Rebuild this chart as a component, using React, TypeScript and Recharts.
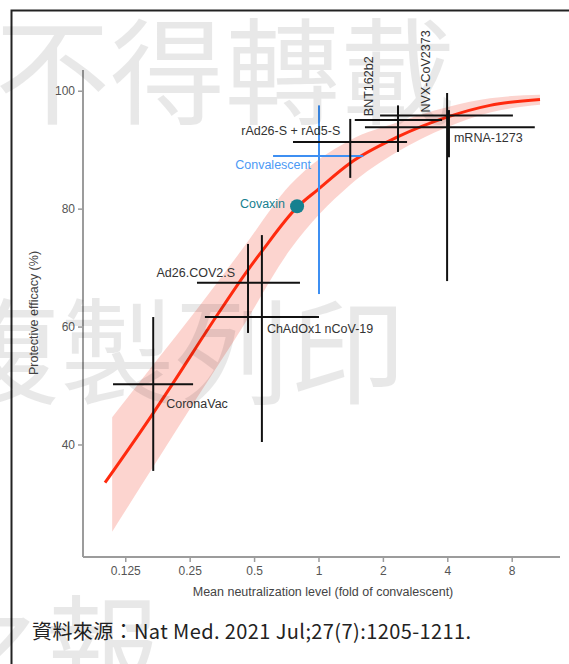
import { ComposedChart, XAxis, YAxis, Line, Area, Scatter, ErrorBar } from "recharts";

// vaccines with error bars (fold of convalescent / efficacy %)
const vaccineNames = [
  "CoronaVac",
  "Ad26.COV2.S",
  "ChAdOx1 nCoV-19",
  "rAd26-S + rAd5-S",
  "BNT162b2",
  "NVX-CoV2373",
  "mRNA-1273",
];
const neutMean = [0.168, 0.466, 0.541, 1.4, 2.34, 3.97, 4.05];
const neutLow = [0.109, 0.269, 0.293, 0.756, 1.47, 1.93, 1.64];
const neutHigh = [0.258, 0.815, 1.0, 2.58, 3.76, 8.06, 10.2];
const efficacy = [50.3, 67.5, 61.7, 91.4, 95.1, 95.9, 93.9];
const effLow = [35.6, 59.0, 40.5, 85.3, 89.7, 67.8, 88.8];
const effHigh = [61.7, 74.1, 75.6, 95.3, 97.6, 99.7, 96.8];

// convalescent reference
const convNeut = [1.0];
const convNeutLow = [0.61];
const convNeutHigh = [1.61];
const convEff = [89.0];
const convEffLow = [65.6];
const convEffHigh = [97.6];

// covaxin (no bars)
const covaxinNeut = [0.79];
const covaxinEff = [80.5];

// fitted curve + band
const curveNeut = [0.1, 0.168, 0.208, 0.334, 0.466, 0.547, 0.789, 0.979, 1.396, 2.316, 3.966, 6.3, 10.79];
const curveEff = [33.6, 45.4, 50.5, 62.0, 69.7, 73.1, 80.3, 83.2, 87.8, 92.2, 95.6, 97.6, 98.6];
const bandNeut = [0.108, 0.168, 0.278, 0.436, 0.732, 1.396, 2.316, 3.966, 6.3, 10.79];
const bandLow = [25.3, 36.3, 48.8, 59.8, 73.1, 84.1, 89.7, 93.9, 96.4, 97.7];
const bandHigh = [44.7, 53.6, 63.7, 73.1, 84.1, 91.7, 94.7, 97.3, 98.8, 99.4];

const xTicks = [0.125, 0.25, 0.5, 1, 2, 4, 8];
const yTicks = [40, 60, 80, 100];

const vaccineRows = vaccineNames.map((name, i) => ({
  name,
  x: neutMean[i],
  y: efficacy[i],
  xErr: [neutMean[i] - neutLow[i], neutHigh[i] - neutMean[i]],
  yErr: [efficacy[i] - effLow[i], effHigh[i] - efficacy[i]],
}));
const convRows = convNeut.map((x, i) => ({
  name: "Convalescent",
  x,
  y: convEff[i],
  xErr: [x - convNeutLow[i], convNeutHigh[i] - x],
  yErr: [convEff[i] - convEffLow[i], convEffHigh[i] - convEff[i]],
}));
const covaxinRows = covaxinNeut.map((x, i) => ({ name: "Covaxin", x, y: covaxinEff[i] }));
const curveRows = curveNeut.map((x, i) => ({ x, eff: curveEff[i] }));
const bandRows = bandNeut.map((x, i) => ({ x, range: [bandLow[i], bandHigh[i]] }));

const FONT = "'Liberation Sans', Arial, sans-serif";
const CJK = "'Noto Sans CJK TC', 'Noto Sans', sans-serif";
const AXIS = "#9c9c9c";
const BLUE = "#3d8ff2";
const TEAL = "#16808f";

const labelLayout: Record<string, { dx: number; dy: number; anchor: string; rotate?: boolean; color?: string }> = {
  CoronaVac: { dx: 13, dy: 19, anchor: "start" },
  "Ad26.COV2.S": { dx: -13, dy: -10, anchor: "end" },
  "ChAdOx1 nCoV-19": { dx: 5, dy: 12, anchor: "start" },
  "rAd26-S + rAd5-S": { dx: -10, dy: -11, anchor: "end" },
  BNT162b2: { dx: -25, dy: -4, anchor: "start", rotate: true },
  "NVX-CoV2373": { dx: -17, dy: -3, anchor: "start", rotate: true },
  "mRNA-1273": { dx: 5, dy: 10, anchor: "start" },
  Convalescent: { dx: -8, dy: 9, anchor: "end", color: "#4d9af5" },
  Covaxin: { dx: -12, dy: -3, anchor: "end", color: TEAL },
};

function PointLabel(props: any) {
  const { cx, cy, payload, dot } = props;
  const lay = labelLayout[payload.name];
  const x = cx + lay.dx;
  const y = cy + lay.dy;
  return (
    <g>
      {dot && <circle cx={cx} cy={cy} r={7} fill={TEAL} />}
      {lay.rotate ? (
        <text
          x={x}
          y={y}
          transform={`rotate(-90 ${x} ${y})`}
          textAnchor="start"
          fontSize={12.5}
          fontFamily={FONT}
          fill="#333"
        >
          {payload.name}
        </text>
      ) : (
        <text
          x={x}
          y={y}
          dy="0.35em"
          textAnchor={lay.anchor as any}
          fontSize={12.5}
          fontFamily={FONT}
          fill={lay.color || "#333"}
        >
          {payload.name}
        </text>
      )}
    </g>
  );
}

export default function App() {
  return (
    <div
      style={{
        position: "absolute",
        left: 0,
        top: 0,
        width: 569,
        height: 664,
        overflow: "hidden",
        background: "#fff",
      }}
    >
      <ComposedChart width={569} height={664} margin={{ top: 70, right: 9, bottom: 77, left: 43 }}>
        <XAxis
          dataKey="x"
          type="number"
          scale="log"
          domain={[0.0789, 13.38]}
          ticks={xTicks}
          tickFormatter={(v) => String(v)}
          height={30}
          tickSize={5}
          tickMargin={4}
          axisLine={{ stroke: AXIS, strokeWidth: 2 }}
          tickLine={{ stroke: AXIS, strokeWidth: 1.5 }}
          tick={{ fill: "#555", fontSize: 12, fontFamily: FONT }}
        />
        <YAxis
          type="number"
          domain={[21, 103.6]}
          ticks={yTicks}
          width={40}
          tickSize={5}
          tickMargin={3}
          axisLine={{ stroke: AXIS, strokeWidth: 2 }}
          tickLine={{ stroke: AXIS, strokeWidth: 1.5 }}
          tick={{ fill: "#555", fontSize: 12, fontFamily: FONT }}
        />
        <Area
          data={bandRows}
          dataKey="range"
          type="monotone"
          stroke="none"
          fill="#fccfca"
          fillOpacity={0.9}
          isAnimationActive={false}
        />
        <Line
          data={curveRows}
          dataKey="eff"
          type="monotone"
          stroke="#ff2a0e"
          strokeWidth={3}
          dot={false}
          isAnimationActive={false}
        />
        <Scatter
          data={convRows}
          dataKey="y"
          isAnimationActive={false}
          shape={(p: any) => <PointLabel {...p} />}
        >
          <ErrorBar dataKey="xErr" direction="x" width={0} stroke={BLUE} strokeWidth={2} />
          <ErrorBar dataKey="yErr" direction="y" width={0} stroke={BLUE} strokeWidth={2} />
        </Scatter>
        <Scatter
          data={vaccineRows}
          dataKey="y"
          isAnimationActive={false}
          shape={(p: any) => <PointLabel {...p} />}
        >
          <ErrorBar dataKey="xErr" direction="x" width={0} stroke="#111" strokeWidth={2} />
          <ErrorBar dataKey="yErr" direction="y" width={0} stroke="#111" strokeWidth={2} />
        </Scatter>
        <Scatter
          data={covaxinRows}
          dataKey="y"
          isAnimationActive={false}
          shape={(p: any) => <PointLabel {...p} dot />}
        />
      </ComposedChart>

      <svg
        width={569}
        height={664}
        style={{ position: "absolute", left: 0, top: 0, pointerEvents: "none" }}
      >
        <path d="M11.5,664 V10.5 H569" stroke="#222" strokeWidth={2} fill="none" />
        <text
          x={34}
          y={313}
          transform="rotate(-90 34 313)"
          textAnchor="middle"
          dy="0.35em"
          fontSize={12.5}
          fontFamily={FONT}
          fill="#444"
        >
          Protective efficacy (%)
        </text>
        <text x={323} y={592} textAnchor="middle" dy="0.35em" fontSize={12.5} fontFamily={FONT} fill="#444">
          Mean neutralization level (fold of convalescent)
        </text>
        <text x={32} y={632} dy="0.35em" fontSize={20} letterSpacing={0.4} fontFamily={CJK} fill="#222">
          資料來源：Nat Med. 2021 Jul;27(7):1205-1211.
        </text>
        <g fontFamily={CJK} fontSize={115} fill="#000" fillOpacity={0.09}>
          <text x={-5} y={115}>不得轉載</text>
          <text x={-55} y={395}>複製列印</text>
          <text x={-70} y={692}>之報</text>
        </g>
      </svg>
    </div>
  );
}
